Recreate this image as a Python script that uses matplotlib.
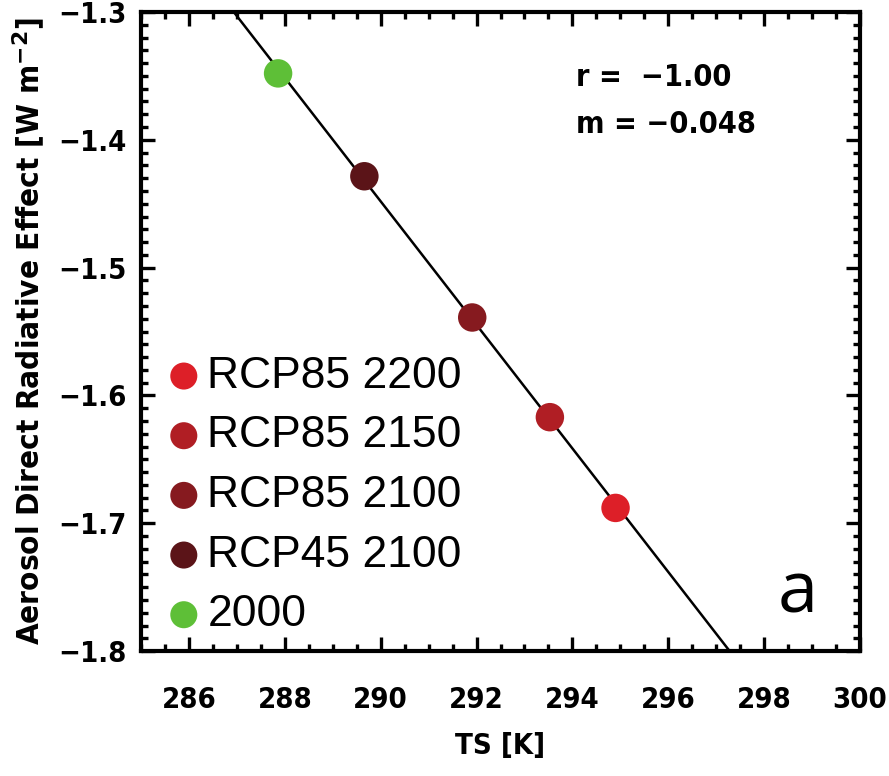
import numpy as np
import matplotlib
matplotlib.use("Agg")
import matplotlib.pyplot as plt
from matplotlib.ticker import MultipleLocator, FuncFormatter

# surface temperature vs aerosol direct radiative effect, one point per scenario
labels = ["RCP85 2200", "RCP85 2150", "RCP85 2100", "RCP45 2100", "2000"]
ts = [294.90, 293.53, 291.91, 289.66, 287.86]
ade = [-1.688, -1.617, -1.539, -1.4285, -1.348]
colors = ["#DD1F28", "#B01E24", "#861A1F", "#5B1418", "#5EBF37"]

BOLD = dict(family="DejaVu Sans", fontweight="bold", fontstretch="condensed")

fig = plt.figure(figsize=(8.89, 7.76), dpi=100)
ax = fig.add_axes([0.1586, 0.1610, 0.8088, 0.8235])

m, b = np.polyfit(ts, ade, 1)
r = np.corrcoef(ts, ade)[0, 1]
xl = np.array([285.0, 300.0])
ax.plot(xl, m * xl + b, color="black", lw=1.8, zorder=2)

for x, y, c, lab in zip(ts, ade, colors, labels):
    ax.scatter([x], [y], s=420, color=c, edgecolors="none", zorder=3, label=lab)

ax.set_xlim(285, 300)
ax.set_ylim(-1.8, -1.3)
ax.xaxis.set_major_locator(MultipleLocator(2))
ax.xaxis.set_minor_locator(MultipleLocator(0.5))
ax.yaxis.set_major_locator(MultipleLocator(0.1))
ax.yaxis.set_minor_locator(MultipleLocator(0.01))
ax.yaxis.set_major_formatter(FuncFormatter(lambda v, _p: f"{v:.1f}".replace("-", "\u2212")))
ax.set_xticks([286, 288, 290, 292, 294, 296, 298, 300])

ax.tick_params(which="both", direction="in", top=True, right=True, width=2.4, colors="black")
ax.tick_params(which="major", length=10)
ax.tick_params(which="minor", length=5)
ax.tick_params(axis="x", which="major", pad=25)
ax.tick_params(axis="y", which="major", pad=10)
for lab in ax.get_xticklabels() + ax.get_yticklabels():
    lab.set_fontsize(21)
    lab.set_fontweight("bold")
    lab.set_fontstretch("condensed")
for sp in ax.spines.values():
    sp.set_linewidth(3)

ax.set_xlabel("TS [K]", fontsize=21, labelpad=13, **BOLD)
ax.set_ylabel("Aerosol Direct Radiative Effect [W m$^{\\mathbf{-2}}$]", fontsize=22.5, labelpad=8, **BOLD)

ax.text(0.605, 0.885, f"r =  {r:.2f}".replace("-", "\u2212"), transform=ax.transAxes, fontsize=22, **BOLD)
ax.text(0.605, 0.81, f"m = {m:.3f}".replace("-", "\u2212"), transform=ax.transAxes, fontsize=22, **BOLD)
ax.text(0.885, 0.06, "a", transform=ax.transAxes, fontsize=52, family="Open Sans")

ax.legend(loc="upper left", bbox_to_anchor=(-0.027, 0.49), frameon=False,
          prop={"family": "Liberation Sans", "size": 32}, handletextpad=-0.47,
          labelspacing=0.42, borderaxespad=0, scatterpoints=1, markerscale=0.95)

fig.savefig("out.png", dpi=100)
